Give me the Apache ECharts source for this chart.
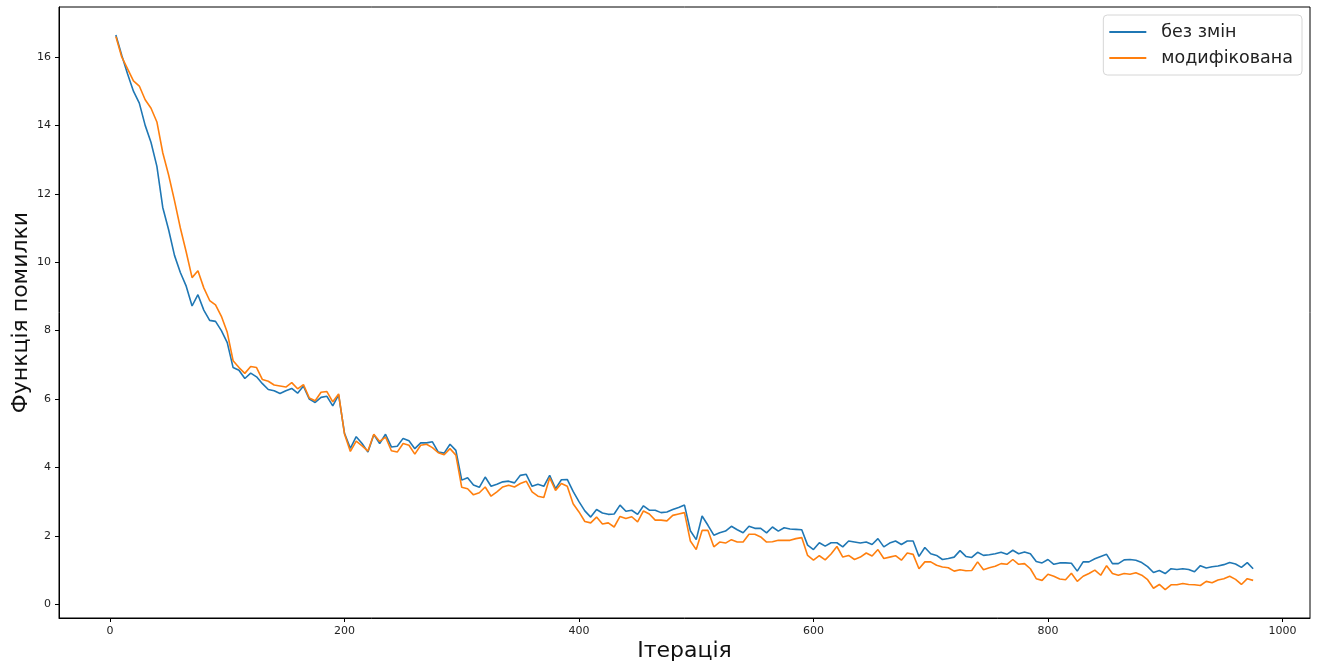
<!DOCTYPE html>
<html>
<head>
<meta charset="utf-8">
<script src="https://cdn.jsdelivr.net/npm/echarts@6/dist/echarts.min.js"></script>
<style>
  html, body { margin: 0; padding: 0; background: #fff; }
  #chart { width: 1317px; height: 663px; }
</style>
</head>
<body>
<div id="chart"></div>
<script>
// Training loss sampled every 5 iterations, starting at iteration 5
const FIRST_ITER = 5;
const ITER_STEP = 5;

const lossBaseline = [
  16.64, 16.05, 15.5, 15.0, 14.65, 14.0, 13.5, 12.8, 11.6, 10.95,
  10.2, 9.7, 9.3, 8.72, 9.05, 8.6, 8.3, 8.27, 8.0, 7.65,
  6.92, 6.84, 6.6, 6.76, 6.65, 6.45, 6.28, 6.24, 6.16, 6.24,
  6.31, 6.17, 6.38, 6.0, 5.9, 6.05, 6.08, 5.8, 6.12, 5.0,
  4.56, 4.9, 4.7, 4.45, 4.96, 4.7, 4.97, 4.6, 4.62, 4.85,
  4.78, 4.55, 4.72, 4.72, 4.75, 4.45, 4.42, 4.68, 4.5, 3.63,
  3.7, 3.49, 3.42, 3.72, 3.45, 3.51, 3.58, 3.6, 3.55, 3.77,
  3.8, 3.45, 3.51, 3.45, 3.77, 3.38, 3.64, 3.65, 3.3, 3.0,
  2.73, 2.55, 2.77, 2.67, 2.63, 2.64, 2.9, 2.72, 2.75, 2.63,
  2.88, 2.75, 2.75, 2.68, 2.7, 2.77, 2.83, 2.9, 2.15, 1.89,
  2.58, 2.31, 2.02, 2.09, 2.14, 2.28, 2.18, 2.09, 2.28, 2.22,
  2.22, 2.09, 2.26, 2.14, 2.24, 2.2, 2.19, 2.18, 1.73, 1.6,
  1.8, 1.7, 1.8, 1.8, 1.68, 1.85, 1.82, 1.79, 1.82, 1.75,
  1.92, 1.68, 1.79, 1.85, 1.75, 1.85, 1.85, 1.4, 1.66, 1.48,
  1.43, 1.31, 1.34, 1.38, 1.57, 1.4, 1.37, 1.52, 1.43, 1.45,
  1.48, 1.52, 1.46, 1.58, 1.48, 1.53, 1.48, 1.25, 1.21, 1.31,
  1.17, 1.21, 1.21, 1.2, 0.97, 1.24, 1.24, 1.33, 1.4, 1.46,
  1.19, 1.19, 1.3, 1.31, 1.29, 1.22, 1.1, 0.93, 0.99, 0.9,
  1.04, 1.02, 1.04, 1.02, 0.95, 1.13, 1.06, 1.1, 1.12, 1.16,
  1.22, 1.18, 1.08, 1.22, 1.04
];

const lossModified = [
  16.6, 16.0, 15.65, 15.3, 15.15, 14.75, 14.5, 14.1, 13.2, 12.55,
  11.8, 11.0, 10.3, 9.55, 9.75, 9.25, 8.88, 8.75, 8.42, 7.95,
  7.12, 6.92, 6.75, 6.95, 6.92, 6.57, 6.52, 6.41, 6.38, 6.35,
  6.48, 6.3, 6.42, 6.03, 5.95, 6.2, 6.22, 5.92, 6.15, 4.98,
  4.47, 4.77, 4.63, 4.48, 4.97, 4.76, 4.89, 4.49, 4.45, 4.7,
  4.65, 4.39, 4.65, 4.68, 4.58, 4.43, 4.37, 4.55, 4.36, 3.42,
  3.38, 3.2, 3.26, 3.43, 3.16, 3.29, 3.43, 3.48, 3.43, 3.53,
  3.6, 3.29, 3.16, 3.12, 3.7, 3.33, 3.53, 3.45, 2.94, 2.7,
  2.42, 2.38, 2.55, 2.35, 2.38, 2.26, 2.57, 2.51, 2.56, 2.41,
  2.73, 2.64, 2.46, 2.46, 2.44, 2.6, 2.64, 2.68, 1.85, 1.6,
  2.16, 2.16, 1.68, 1.82, 1.79, 1.89, 1.82, 1.82, 2.05, 2.05,
  1.97, 1.82, 1.83, 1.87, 1.87, 1.87, 1.92, 1.95, 1.43, 1.29,
  1.42, 1.3, 1.47, 1.69, 1.38, 1.43, 1.31, 1.38, 1.5, 1.41,
  1.6, 1.34, 1.38, 1.42, 1.29, 1.5, 1.46, 1.04, 1.24, 1.24,
  1.14, 1.09, 1.07, 0.97, 1.01, 0.98, 0.99, 1.24, 1.01, 1.07,
  1.11, 1.19, 1.17, 1.31, 1.17, 1.19, 1.04, 0.75, 0.7, 0.88,
  0.82, 0.74, 0.72, 0.91, 0.67, 0.82, 0.9, 1.0, 0.85, 1.13,
  0.9, 0.85, 0.9, 0.88, 0.92, 0.85, 0.72, 0.47, 0.58, 0.43,
  0.57, 0.57, 0.61, 0.58, 0.57, 0.55, 0.67, 0.63, 0.71, 0.75,
  0.82, 0.73, 0.58, 0.75, 0.7
];

const xTicks = [0, 200, 400, 600, 800, 1000];
const yTicks = [0, 2, 4, 6, 8, 10, 12, 14, 16];

const seriesNames = ['без змін', 'модифікована'];
const xAxisTitle = 'Ітерація';
const yAxisTitle = 'Функція помилки';

const iterations = lossBaseline.map((_, i) => FIRST_ITER + i * ITER_STEP);
const pairs = (vals) => vals.map((v, i) => [iterations[i], v]);

const FONT = 'DejaVu Sans';
const chart = echarts.init(document.getElementById('chart'), null, { renderer: 'canvas' });

const axisCommon = {
  axisLine: { show: true, onZero: false, lineStyle: { color: '#000', width: 1 } },
  axisTick: { show: true, inside: false, length: 4, lineStyle: { color: '#000', width: 1 } },
  axisLabel: { color: '#222', fontFamily: FONT, fontSize: 11, formatter: (v) => String(v) },
  splitLine: { show: false },
  nameMoveOverlap: false,
  nameTextStyle: { color: '#111', fontFamily: FONT, fontSize: 22 }
};

chart.setOption({
  animation: false,
  backgroundColor: '#fff',
  grid: {
    left: 59, right: 7, top: 7, bottom: 45,
    outerBoundsMode: 'none', containLabel: false,
    show: true, borderColor: '#000', borderWidth: 1, backgroundColor: '#fff'
  },
  legend: {
    orient: 'vertical',
    right: 15, top: 15,
    data: seriesNames,
    icon: 'rect',
    itemWidth: 37, itemHeight: 2,
    itemGap: 8,
    padding: [8, 9, 8, 6],
    backgroundColor: '#fff',
    borderColor: '#d6d6d6', borderWidth: 1, borderRadius: 4,
    textStyle: { color: '#222', fontFamily: FONT, fontSize: 17.5, padding: [0, 0, 0, 10] }
  },
  xAxis: Object.assign({}, axisCommon, {
    type: 'value',
    min: -43.5, max: 1023.5,
    name: xAxisTitle, nameLocation: 'middle', nameGap: 22,
    axisTick: Object.assign({}, axisCommon.axisTick, { customValues: xTicks }),
    axisLabel: Object.assign({}, axisCommon.axisLabel, { customValues: xTicks, margin: 8 })
  }),
  yAxis: Object.assign({}, axisCommon, {
    type: 'value',
    min: -0.4, max: 17.46,
    name: yAxisTitle, nameLocation: 'middle', nameGap: 27,
    axisTick: Object.assign({}, axisCommon.axisTick, { customValues: yTicks }),
    axisLabel: Object.assign({}, axisCommon.axisLabel, { customValues: yTicks, margin: 8 })
  }),
  series: [
    {
      name: seriesNames[0], type: 'line', data: pairs(lossBaseline),
      showSymbol: false, symbol: 'none',
      lineStyle: { color: '#1f77b4', width: 1.6 }, itemStyle: { color: '#1f77b4' }
    },
    {
      name: seriesNames[1], type: 'line', data: pairs(lossModified),
      showSymbol: false, symbol: 'none',
      lineStyle: { color: '#ff7f0e', width: 1.6 }, itemStyle: { color: '#ff7f0e' }
    }
  ]
});
</script>
</body>
</html>
